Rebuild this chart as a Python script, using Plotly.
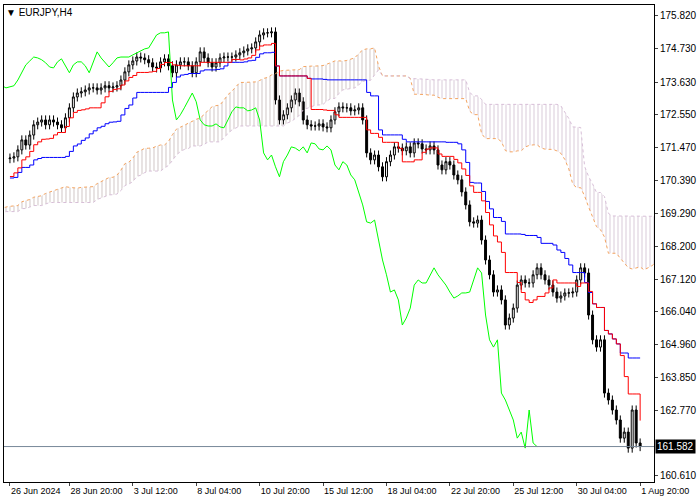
import numpy as np
import pandas as pd
import plotly.graph_objects as go

## Data
# hidden bars before the visible window (needed for the ichimoku lines)
pre_close = [168.9, 169.0, 168.8, 168.7, 168.9, 169.1, 169.0, 168.8, 168.9, 169.2, 169.3, 169.1, 169.0,
             169.2, 169.4, 169.5, 169.3, 169.4, 169.6, 169.5, 169.7, 169.8, 169.6, 169.7, 169.9, 170.0,
             169.9, 169.8, 170.0, 170.2, 170.1, 170.3, 170.4, 170.2, 170.3, 170.5, 170.6, 170.4, 170.5,
             170.4, 170.3, 170.1, 170.0, 169.9, 170.1, 170.2, 170.4, 170.6, 170.8, 170.9, 171.0, 171.1]

close = [171.12, 171.16, 171.39, 171.72, 171.55, 171.88, 172.22, 172.31, 172.38, 172.22,
         172.38, 172.31, 172.22, 172.12, 172.45, 172.78, 173.14, 173.27, 173.31, 173.37,
         173.44, 173.44, 173.37, 173.44, 173.51,
         173.44, 173.47, 173.51, 173.70, 173.97, 174.20, 174.33, 174.46, 174.43, 174.37,
         174.27, 174.13, 174.10, 174.30, 174.40, 174.17, 173.94, 174.20, 174.30, 174.30,
         174.17, 173.94, 174.30, 174.63, 174.43, 174.27, 174.13, 174.27, 174.43, 174.46,
         174.46, 174.46, 174.53, 174.60, 174.66, 174.73, 174.76, 174.96, 175.19, 175.26,
         175.26, 175.29, 173.04, 172.38, 172.55, 172.78, 173.04, 173.27, 172.98, 172.38,
         172.22, 172.18, 172.18, 172.25, 172.15, 172.12, 172.38, 172.65, 172.81, 172.78,
         172.78, 172.68, 172.71, 172.78, 172.38, 171.29, 171.06, 171.22, 170.83, 170.50,
         171.00, 171.22, 171.49, 171.45, 171.36, 171.49, 171.29, 171.62, 171.59, 171.42,
         171.39, 171.52, 171.39, 170.89, 170.73, 171.00, 170.89, 170.56, 170.40, 170.00,
         169.57, 169.01, 168.97, 169.07, 168.41, 167.75, 167.26, 166.69, 166.76, 166.43,
         165.60, 165.83, 166.16, 166.92, 167.09, 166.99, 166.99, 167.26, 167.49, 167.26,
         167.09, 166.92, 166.69, 166.49, 166.56, 166.66, 166.66, 166.69, 167.09, 167.49,
         167.32, 165.93, 165.11, 164.87, 165.11, 163.35, 163.12, 162.79, 162.46, 161.86,
         162.06, 161.53, 162.79, 161.70, 161.58]

tick_pos = [0, 15, 31, 47, 63, 79, 95, 111, 127, 143, 159]
tick_text = ['26 Jun 2024', '28 Jun 20:00', '3 Jul 12:00', '8 Jul 04:00', '10 Jul 20:00',
             '15 Jul 12:00', '18 Jul 04:00', '22 Jul 20:00', '25 Jul 12:00', '30 Jul 04:00', '1 Aug 20:00']
price_ticks = [175.820, 174.730, 173.630, 172.550, 171.470, 170.390, 169.290, 168.200,
               167.120, 166.040, 164.960, 163.850, 162.770, 160.610]
last_price = 161.582

## OHLC + ichimoku
npre = len(pre_close)
c = pd.Series(pre_close + close)
o = c.shift(1).fillna(c.iloc[0])
h = np.maximum(o, c) + 0.15
l = np.minimum(o, c) - 0.15
idx = np.arange(len(c)) - npre

def mid(n):
    return (h.rolling(n, min_periods=1).max() + l.rolling(n, min_periods=1).min()) / 2

tenkan = mid(9)
kijun = mid(26)
span_a = ((tenkan + kijun) / 2).values
span_b = mid(52).values
cloud_x = idx + 26
chikou_x = idx - 26

vis = idx >= 0
fig = go.Figure()

a_up = np.where(span_a >= span_b, span_a, span_b)
a_dn = np.where(span_a < span_b, span_a, span_b)
fig.add_trace(go.Scatter(x=cloud_x, y=span_b, mode='lines', line=dict(width=0), hoverinfo='skip'))
fig.add_trace(go.Scatter(x=cloud_x, y=a_up, mode='lines', line=dict(width=0), fill='tonexty',
                         fillcolor='rgba(0,0,0,0)',
                         fillpattern=dict(shape='|', fgcolor='#B0A0A0', size=4, solidity=0.3),
                         hoverinfo='skip'))
fig.add_trace(go.Scatter(x=cloud_x, y=span_b, mode='lines', line=dict(width=0), hoverinfo='skip'))
fig.add_trace(go.Scatter(x=cloud_x, y=a_dn, mode='lines', line=dict(width=0), fill='tonexty',
                         fillcolor='rgba(0,0,0,0)',
                         fillpattern=dict(shape='|', fgcolor='#C0A8C0', size=4, solidity=0.3),
                         hoverinfo='skip'))
fig.add_trace(go.Scatter(x=cloud_x, y=span_a, mode='lines', line=dict(color='#F4A460', width=1, dash='dot')))
fig.add_trace(go.Scatter(x=cloud_x, y=span_b, mode='lines', line=dict(color='#D8BFD8', width=1, dash='dot')))

fig.add_trace(go.Scatter(x=chikou_x, y=c, mode='lines', line=dict(color='#00FF00', width=1)))
fig.add_trace(go.Scatter(x=idx[vis], y=kijun[vis], mode='lines', line=dict(color='#0000FF', width=1, shape='hv')))
fig.add_trace(go.Scatter(x=idx[vis], y=tenkan[vis], mode='lines', line=dict(color='#FF0000', width=1, shape='hv')))

fig.add_trace(go.Candlestick(x=idx[vis], open=o[vis], high=h[vis], low=l[vis], close=c[vis],
                             increasing=dict(line=dict(color='black', width=1), fillcolor='white'),
                             decreasing=dict(line=dict(color='black', width=1), fillcolor='black'),
                             whiskerwidth=0))

fig.add_hline(y=last_price, line=dict(color='#778899', width=1))
fig.add_annotation(x=1, xref='paper', xanchor='left', y=last_price, yref='y', text='%.3f' % last_price,
                   showarrow=False, bgcolor='black', font=dict(color='white', size=10, family='Liberation Sans'),
                   borderpad=1, xshift=1)
fig.add_annotation(x=0, xref='paper', xanchor='left', y=1, yref='paper', yanchor='top',
                   text='▼ EURJPY,H4', showarrow=False, font=dict(size=10, family='Liberation Sans', color='black'))

fig.update_layout(width=700, height=500, margin=dict(l=3, r=45, t=5, b=18),
                  paper_bgcolor='white', plot_bgcolor='white', showlegend=False,
                  xaxis=dict(range=[-1.5, 162.5], tickvals=tick_pos, ticktext=tick_text, ticks='outside',
                             ticklabelposition='outside right', tickangle=0,
                             ticklen=3, showgrid=False, zeroline=False, rangeslider=dict(visible=False),
                             showline=True, linecolor='black', mirror=True,
                             tickfont=dict(size=9, family='Liberation Sans', color='black')),
                  yaxis=dict(range=[160.41, 176.18], side='right', tickvals=price_ticks,
                             ticktext=['%.3f' % v for v in price_ticks], ticks='outside', ticklen=3,
                             showgrid=False, zeroline=False, showline=True, linecolor='black', mirror=True,
                             tickfont=dict(size=10, family='Liberation Sans', color='black')))

fig.write_html('out.html', config={'displayModeBar': False}, post_script="document.body.style.margin='0';")
